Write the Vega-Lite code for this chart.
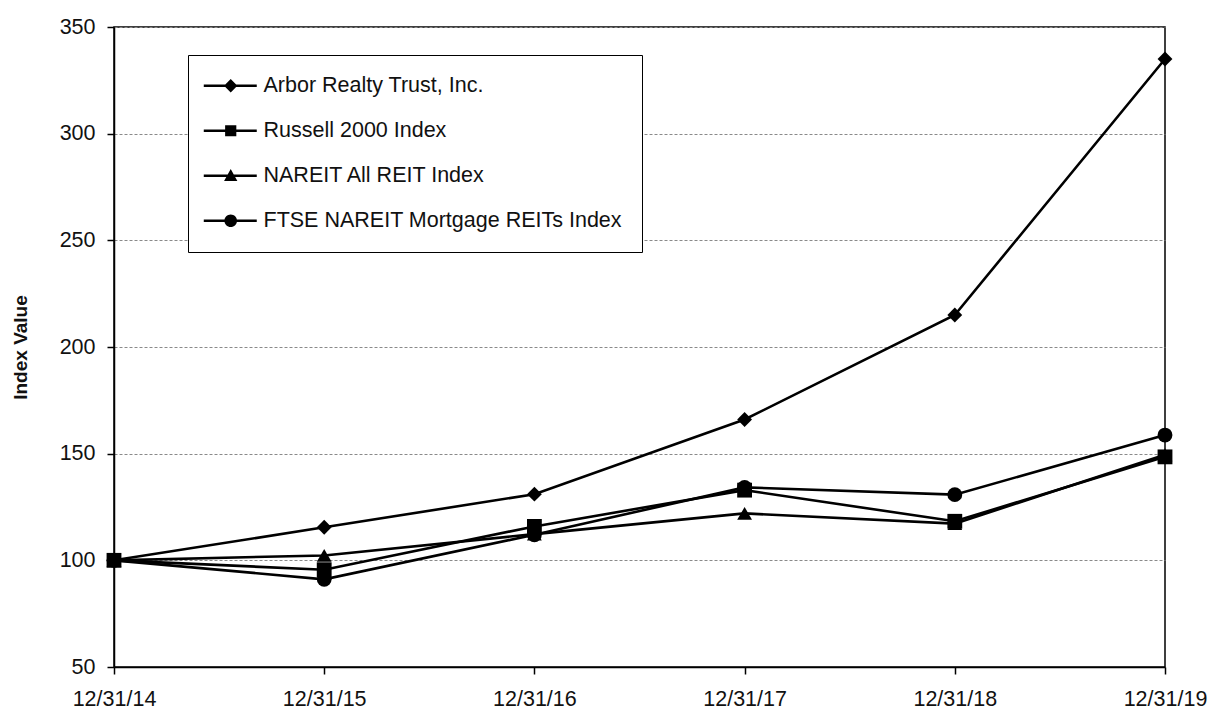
{
  "$schema": "https://vega.github.io/schema/vega-lite/v6.json",
  "width": 1051,
  "height": 640,
  "autosize": {"type": "none"},
  "padding": {"left": 114, "top": 27, "right": 46, "bottom": 42},
  "background": "white",
  "config": {
    "font": "Liberation Sans",
    "view": {"stroke": "black", "strokeWidth": 1.5},
    "axis": {"labelFont": "Liberation Sans", "titleFont": "Liberation Sans", "labelColor": "#111", "titleColor": "#111"}
  },
  "data": {"values": [
    {"date": "12/31/14", "series": "FTSE NAREIT Mortgage REITs Index", "value": 100},
    {"date": "12/31/15", "series": "FTSE NAREIT Mortgage REITs Index", "value": 91.1},
    {"date": "12/31/16", "series": "FTSE NAREIT Mortgage REITs Index", "value": 112.0},
    {"date": "12/31/17", "series": "FTSE NAREIT Mortgage REITs Index", "value": 134.2},
    {"date": "12/31/18", "series": "FTSE NAREIT Mortgage REITs Index", "value": 130.8},
    {"date": "12/31/19", "series": "FTSE NAREIT Mortgage REITs Index", "value": 158.7},
    {"date": "12/31/14", "series": "NAREIT All REIT Index", "value": 100},
    {"date": "12/31/15", "series": "NAREIT All REIT Index", "value": 102.3},
    {"date": "12/31/16", "series": "NAREIT All REIT Index", "value": 112.3},
    {"date": "12/31/17", "series": "NAREIT All REIT Index", "value": 122.0},
    {"date": "12/31/18", "series": "NAREIT All REIT Index", "value": 117.2},
    {"date": "12/31/19", "series": "NAREIT All REIT Index", "value": 149.5},
    {"date": "12/31/14", "series": "Arbor Realty Trust, Inc.", "value": 100},
    {"date": "12/31/15", "series": "Arbor Realty Trust, Inc.", "value": 115.5},
    {"date": "12/31/16", "series": "Arbor Realty Trust, Inc.", "value": 131.0},
    {"date": "12/31/17", "series": "Arbor Realty Trust, Inc.", "value": 166.0},
    {"date": "12/31/18", "series": "Arbor Realty Trust, Inc.", "value": 215.0},
    {"date": "12/31/19", "series": "Arbor Realty Trust, Inc.", "value": 335.0},
    {"date": "12/31/14", "series": "Russell 2000 Index", "value": 100},
    {"date": "12/31/15", "series": "Russell 2000 Index", "value": 95.6},
    {"date": "12/31/16", "series": "Russell 2000 Index", "value": 115.9},
    {"date": "12/31/17", "series": "Russell 2000 Index", "value": 132.9},
    {"date": "12/31/18", "series": "Russell 2000 Index", "value": 118.3},
    {"date": "12/31/19", "series": "Russell 2000 Index", "value": 148.5}
  ]},
  "encoding": {
    "x": {
      "field": "date", "type": "ordinal",
      "scale": {"type": "point", "padding": 0},
      "sort": ["12/31/14", "12/31/15", "12/31/16", "12/31/17", "12/31/18", "12/31/19"],
      "axis": {
        "title": null, "labelAngle": 0, "labelFontSize": 21.5, "labelPadding": 14,
        "tickSize": 7, "tickColor": "black", "tickWidth": 1.5,
        "domainColor": "black", "domainWidth": 1.5, "grid": false,
        "encode": {"ticks": {"update": {"y": {"value": -7}, "y2": {"value": 7}}}}
      }
    },
    "y": {
      "field": "value", "type": "quantitative",
      "scale": {"domain": [50, 350], "nice": false, "zero": false},
      "axis": {
        "title": "Index Value", "titleFontSize": 19, "titleFontWeight": "bold", "titlePadding": 29,
        "values": [50, 100, 150, 200, 250, 300, 350],
        "labelFontSize": 21.5, "labelPadding": 12, "tickSize": 7, "tickColor": "black", "tickWidth": 1.5,
        "domainColor": "black", "domainWidth": 1.5,
        "grid": true, "gridColor": "#8a8a8a", "gridDash": [3, 2], "gridWidth": 1
      }
    }
  },
  "layer": [
    {
      "mark": {"type": "line", "color": "black", "strokeWidth": 2.6},
      "encoding": {"detail": {"field": "series"}}
    },
    {
      "mark": {"type": "point", "filled": true, "opacity": 1, "color": "black", "size": 220},
      "encoding": {
        "shape": {
          "field": "series", "type": "nominal",
          "scale": {
            "domain": ["Arbor Realty Trust, Inc.", "Russell 2000 Index", "NAREIT All REIT Index", "FTSE NAREIT Mortgage REITs Index"],
            "range": ["diamond", "square", "triangle-up", "circle"]
          },
          "legend": null
        }
      }
    },
    {
      "mark": {"type": "point", "filled": true, "opacity": 0, "color": "black", "size": 196},
      "encoding": {
        "shape": {
          "field": "series", "type": "nominal",
          "scale": {
            "domain": ["Arbor Realty Trust, Inc.", "Russell 2000 Index", "NAREIT All REIT Index", "FTSE NAREIT Mortgage REITs Index"],
            "range": [
              "M-2.14,-0.18H5.43V0.18H-2.14ZM1.71,-0.95L2.66,0L1.71,0.95L0.76,0Z",
              "M-2.14,-0.18H5.43V0.18H-2.14ZM0.91,-0.8H2.51V0.8H0.91Z",
              "M-2.14,-0.18H5.43V0.18H-2.14ZM1.71,-0.95L2.66,0.75H0.76Z",
              "M-2.14,-0.18H5.43V0.18H-2.14ZM0.81,0A0.9,0.9,0,1,1,2.61,0A0.9,0.9,0,1,1,0.81,0Z"
            ]
          },
          "legend": {
            "title": null, "orient": "none", "legendX": 74, "legendY": 28,
            "strokeColor": "black", "fillColor": "white", "padding": 20,
            "labelFontSize": 21.5, "labelColor": "#111", "labelFont": "Liberation Sans", "labelLimit": 600,
            "labelOffset": 34, "rowPadding": 22, "symbolSize": 196,
            "symbolOpacity": 1, "symbolFillColor": "black",
            "encode": {"legend": {"update": {"strokeWidth": {"value": 1.5}}}}
          }
        }
      }
    }
  ],
  "resolve": {"scale": {"shape": "independent"}}
}
